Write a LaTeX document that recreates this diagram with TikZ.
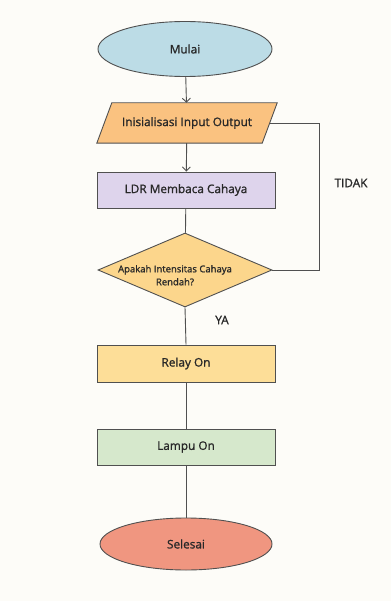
\documentclass[tikz,border=0pt]{standalone}
\usepackage{fontspec}
\setmainfont{Open Sans}[FakeBold=1.2]
\usetikzlibrary{shapes.geometric,arrows.meta,backgrounds}
\definecolor{bgc}{RGB}{253,252,248}
\definecolor{linec}{RGB}{80,80,80}
\definecolor{txtc}{RGB}{40,40,40}
\definecolor{cblue}{RGB}{188,220,230}
\definecolor{corange}{RGB}{250,194,128}
\definecolor{clav}{RGB}{222,212,236}
\definecolor{cdia}{RGB}{252,214,140}
\definecolor{crelay}{RGB}{253,222,152}
\definecolor{cgreen}{RGB}{214,232,204}
\definecolor{cred}{RGB}{240,150,128}
\begin{document}
\begin{tikzpicture}[x=1pt,y=-1pt,
  every node/.style={font=\fontsize{11.8}{14}\selectfont, text=txtc},
  base/.style={draw=linec, line width=0.9pt},
  term/.style={base, ellipse, inner sep=0pt},
  procbox/.style={base, rectangle, minimum width=178pt, minimum height=36pt, inner sep=0pt},
  iobox/.style={rectangle, minimum width=165pt, minimum height=40pt, inner sep=0pt},
  decbox/.style={base, diamond, minimum width=174pt, minimum height=74pt, inner xsep=-50pt, inner ysep=-14pt, font=\fontsize{9.5}{13}\selectfont},
  conn/.style={draw=linec, line width=0.9pt},
  arr/.style={conn, -{Straight Barb[length=4pt,width=8pt]}},
  lbl/.style={font=\fontsize{11.8}{14}\selectfont}
]
\useasboundingbox (0,0) rectangle (391,601);

\node[term, fill=cblue, minimum width=174pt, minimum height=55pt] (start) at (185,49) {Mulai};
\node[iobox] (io) at (187,123) {Inisialisasi Input Output};
\node[procbox, fill=clav] (ldr) at (186,190) {LDR Membaca Cahaya};
\node[decbox, fill=cdia] (dec) at (185,270)
  {\raisebox{-8.5pt}[0pt][0pt]{\hspace*{-20pt}\begin{tabular}{@{}c@{}}Apakah Intensitas Cahaya\\Rendah?\end{tabular}}};
\node[procbox, fill=crelay, minimum height=37pt] (relay) at (186,363.5) {Relay On};
\node[procbox, fill=cgreen] (lamp) at (186,447) {Lampu On};
\node[term, fill=cred, minimum width=172pt, minimum height=52pt] (end) at (186,544) {Selesai};

\begin{scope}[on background layer]
  \fill[bgc] (0,0) rectangle (391,601);
  \filldraw[base, fill=corange, line join=miter]
    ([xshift=7.5pt]io.north west) -- ([xshift=7.5pt]io.north east)
    -- ([xshift=-7.5pt]io.south east) -- ([xshift=-7.5pt]io.south west) -- cycle;
\end{scope}

\coordinate (c1) at (319,123);
\coordinate (c2) at (319,270);

\draw[arr] (start) -- (io);
\draw[arr] (io) -- (ldr);
\draw[conn] (ldr) -- (dec);
\draw[conn] (dec.south) -- (relay.north);
\draw[conn] (relay) -- (lamp);
\draw[conn] (lamp) -- (end);
\draw[conn] (dec.east) -- (c2) -- (c1) -- (io.east);

\node[lbl] (tidak) at (351,183) {TIDAK};
\node[lbl] (ya) at (222,320) {YA};
\end{tikzpicture}
\end{document}
